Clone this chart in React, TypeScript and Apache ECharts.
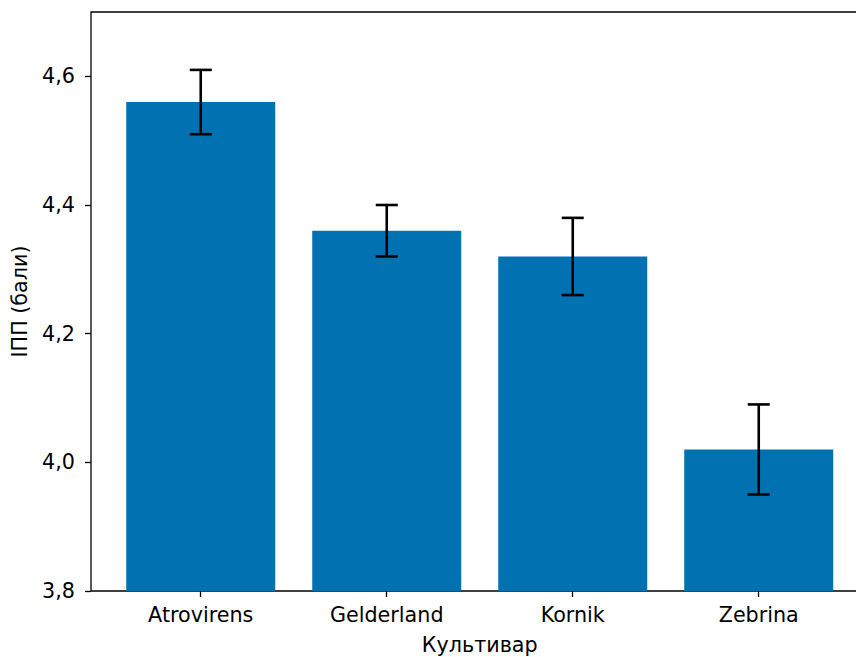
import React, { useEffect, useRef } from "react";
import * as echarts from "echarts";

const categories = ["Atrovirens", "Gelderland", "Kornik", "Zebrina"];
const means = [4.56, 4.36, 4.32, 4.02];
const errors = [0.05, 0.04, 0.06, 0.07];
const yTicks = [3.8, 4.0, 4.2, 4.4, 4.6];

const FONT = "DejaVu Sans";
const FS = 20.7;

export default function App() {
  const ref = useRef<HTMLDivElement>(null);
  useEffect(() => {
    if (!ref.current) return;
    const chart = echarts.init(ref.current, undefined, { renderer: "svg" });
    const errData = means.map((m, i) => [i, m - errors[i], m + errors[i]]);
    chart.setOption({
      animation: false,
      textStyle: { fontFamily: FONT },
      grid: [
        { left: 91, top: 12, width: 777, height: 579, show: true, borderColor: "#000", borderWidth: 1.3, backgroundColor: "transparent", containLabel: false, outerBoundsMode: "none" },
        { left: 107.74, top: 12, width: 744, height: 579, containLabel: false, outerBoundsMode: "none" },
      ],
      xAxis: [
        { gridIndex: 0, type: "value", show: false, min: 0, max: 1 },
        {
          gridIndex: 1,
          type: "category",
          data: categories,
          axisLine: { show: false },
          axisTick: { show: true, alignWithLabel: true, length: 6, lineStyle: { color: "#000", width: 1.3 } },
          axisLabel: { color: "#000", fontSize: FS, fontFamily: FONT, margin: 13.5 },
          name: "Культивар",
          nameLocation: "middle",
          nameGap: 43.5,
          nameTextStyle: { color: "#000", fontSize: FS, fontFamily: FONT },
        },
      ],
      yAxis: [
        { gridIndex: 0, type: "value", show: false, min: 0, max: 1 },
        {
          gridIndex: 1,
          type: "value",
          min: 3.8,
          max: 4.7,
          offset: 16.74,
          splitLine: { show: false },
          axisLine: { show: false },
          axisTick: { show: true, length: 6, lineStyle: { color: "#000", width: 1.3 }, customValues: yTicks },
          axisLabel: {
            color: "#000",
            fontSize: FS,
            fontFamily: FONT,
            margin: 16,
            customValues: yTicks,
            formatter: (v: number) => v.toFixed(1).replace(".", ","),
          },
          name: "ІПП (бали)",
          nameLocation: "middle",
          nameGap: 61,
          nameRotate: 90,
          nameTextStyle: { color: "#000", fontSize: FS, fontFamily: FONT },
        },
      ],
      series: [
        {
          type: "bar",
          xAxisIndex: 1,
          yAxisIndex: 1,
          data: means,
          barWidth: 149,
          itemStyle: { color: "#0072B2" },
        },
        {
          type: "custom",
          xAxisIndex: 1,
          yAxisIndex: 1,
          data: errData,
          encode: { x: 0, y: [1, 2] },
          z: 10,
          renderItem: (params: any, api: any) => {
            const i = api.value(0);
            const lo = api.coord([i, api.value(1)]);
            const hi = api.coord([i, api.value(2)]);
            const hw = 11;
            const style = { stroke: "#000", lineWidth: 2.6 };
            return {
              type: "group",
              children: [
                { type: "line", shape: { x1: lo[0], y1: lo[1], x2: hi[0], y2: hi[1] }, style },
                { type: "line", shape: { x1: hi[0] - hw, y1: hi[1], x2: hi[0] + hw, y2: hi[1] }, style },
                { type: "line", shape: { x1: lo[0] - hw, y1: lo[1], x2: lo[0] + hw, y2: lo[1] }, style },
              ],
            };
          },
        },
      ],
    });
    return () => chart.dispose();
  }, []);
  return (
    <div
      ref={ref}
      style={{ position: "fixed", left: 0, top: 0, width: 856, height: 657, background: "#fff" }}
    />
  );
}
